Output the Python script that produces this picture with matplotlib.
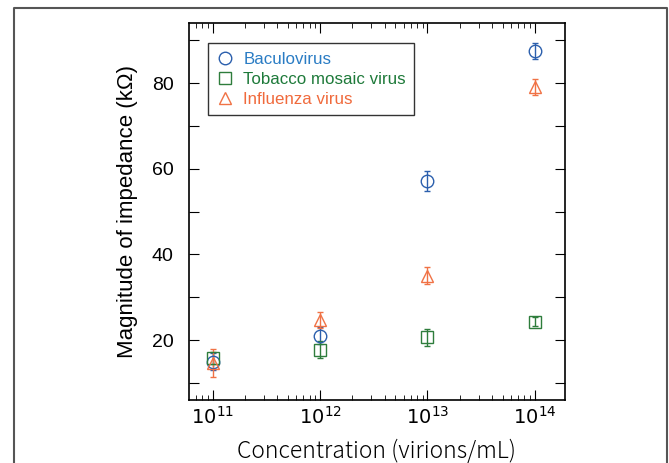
import numpy as np
import matplotlib.pyplot as plt
from matplotlib.lines import Line2D

# concentration (virions/mL)
conc = np.array([1e11, 1e12, 1e13, 1e14])

# magnitude of impedance (kOhm) and error
baculo = [14.9, 21.0, 57.2, 87.5]
baculo_err = [2.0, 2.0, 2.3, 1.8]
tmv = [15.8, 17.7, 20.7, 24.3]
tmv_err = [1.5, 2.0, 2.0, 1.0]
flu = [14.6, 24.7, 35.0, 79.1]
flu_err = [3.2, 1.8, 2.0, 1.8]

labels = ['Baculovirus', 'Tobacco mosaic virus', 'Influenza virus']
markers = ['o', 's', '^']
colors = ['#2b5fad', '#2e7d3c', '#f07245']
text_colors = ['#2a7cc4', '#1e7a3a', '#f06a3c']

plt.rcParams['font.family'] = ['Liberation Sans', 'DejaVu Sans']

fig = plt.figure(figsize=(6.69, 4.63), dpi=100)
ax = fig.add_axes([0.2825, 0.136, 0.562, 0.814])

series = [(baculo, baculo_err), (tmv, tmv_err), (flu, flu_err)]
for (y, e), m, c in zip(series, markers, colors):
    ax.errorbar(conc, y, yerr=e, fmt=m, mfc='none', mec=c, ecolor=c,
                ms=9, mew=1.0, elinewidth=1.0, capsize=2.5, capthick=1.0)

ax.set_xscale('log')
ax.set_xlim(10 ** 10.78, 10 ** 14.28)
ax.set_ylim(6, 94)
ax.set_yticks([10, 20, 30, 40, 50, 60, 70, 80, 90])
ax.set_yticklabels(['', '20', '', '40', '', '60', '', '80', ''])
ax.set_xticks(conc)
ax.set_xticklabels([r'$10^{11}$', r'$10^{12}$', r'$10^{13}$', r'$10^{14}$'])
ax.tick_params(axis='both', which='both', direction='in', top=True, right=True)
ax.tick_params(axis='y', which='major', length=7, labelsize=14, pad=11)
ax.tick_params(axis='x', which='major', length=7, labelsize=14, pad=4)
ax.tick_params(axis='x', which='minor', length=3.5)
for s in ax.spines.values():
    s.set_linewidth(1.2)

ax.set_ylabel('Magnitude of impedance (k\u03a9)', fontsize=16, labelpad=10)
ax.set_xlabel('Concentration (virions/mL)', fontsize=16.5, labelpad=8,
              family=['Noto Sans CJK JP', 'DejaVu Sans'], fontweight='light')

handles = [Line2D([], [], ls='none', marker=m, mfc='none', mec=c, ms=9, mew=1.0)
           for m, c in zip(markers, colors)]
leg = ax.legend(handles, labels, loc='upper left', bbox_to_anchor=(0.05, 0.947),
                fontsize=12.2, fancybox=False, edgecolor='#333333', framealpha=1,
                handlelength=1.0, handletextpad=0.6, borderpad=0.5,
                labelspacing=0.3, borderaxespad=0)
leg.get_frame().set_linewidth(1.0)
for t, c in zip(leg.get_texts(), text_colors):
    t.set_color(c)

# outer frame (left, top, right)
fig.add_artist(Line2D([14 / 669, 14 / 669, 667 / 669, 667 / 669],
                      [0, 1 - 8 / 463, 1 - 8 / 463, 0],
                      transform=fig.transFigure, color='#555555', lw=1.5))

fig.savefig('out.png', dpi=100)
